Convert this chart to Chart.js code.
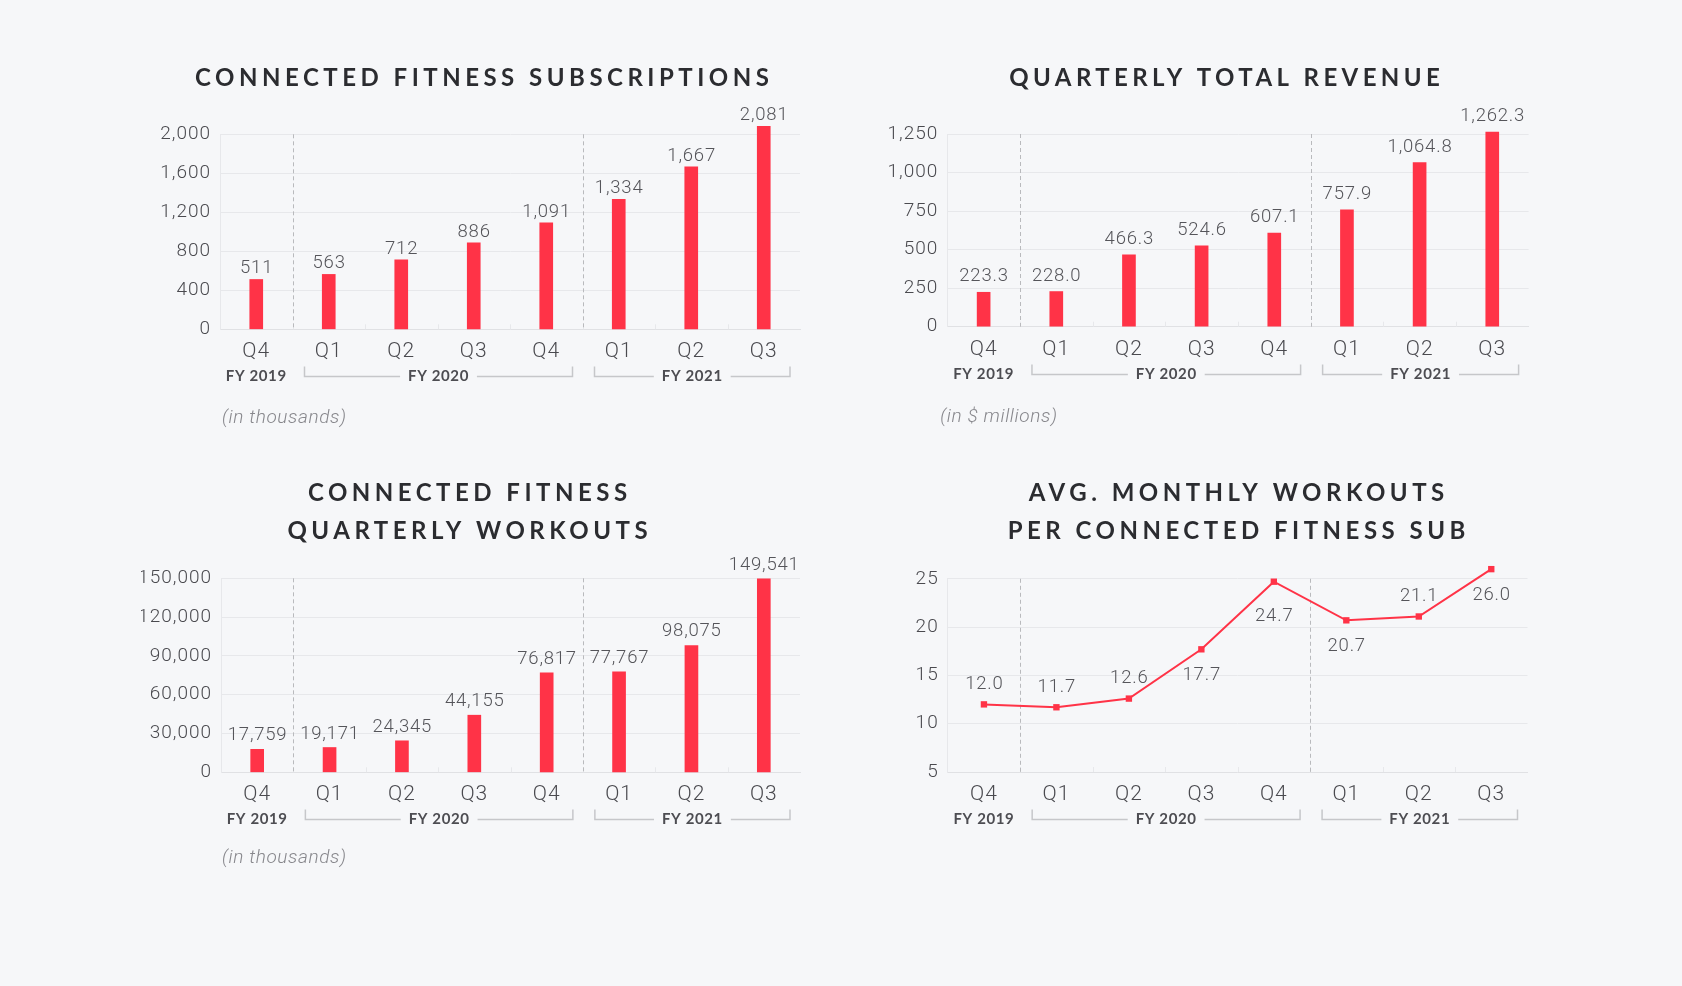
<!DOCTYPE html>
<html>
<head>
<meta charset="utf-8">
<script src="https://cdn.jsdelivr.net/npm/chart.js@4.4.1/dist/chart.umd.min.js"></script>
<style>
  html, body { margin: 0; padding: 0; background: #f6f7f9; }
  body { width: 1682px; height: 986px; position: relative; overflow: hidden; }
  canvas { position: absolute; }
</style>
</head>
<body>
<canvas id="c1" width="841" height="470" style="left:0px;top:0px"></canvas>
<canvas id="c2" width="841" height="470" style="left:841px;top:0px"></canvas>
<canvas id="c3" width="841" height="480" style="left:0px;top:430px"></canvas>
<canvas id="c4" width="841" height="480" style="left:841px;top:430px"></canvas>
<script>
// ---------- DATA ----------
const quarters = ['Q4', 'Q1', 'Q2', 'Q3', 'Q4', 'Q1', 'Q2', 'Q3'];
const fyLabels = ['FY 2019', 'FY 2020', 'FY 2021'];
const fyStart = [0, 1, 5];
const fyEnd = [0, 4, 7];

const subscriptions = [511, 563, 712, 886, 1091, 1334, 1667, 2081];           // thousands
const revenue = [223.3, 228.0, 466.3, 524.6, 607.1, 757.9, 1064.8, 1262.3];   // $ millions
const workouts = [17759, 19171, 24345, 44155, 76817, 77767, 98075, 149541];  // thousands
const avgMonthly = [12.0, 11.7, 12.6, 17.7, 24.7, 20.7, 21.1, 26.0];

const subsTicks = [0, 400, 800, 1200, 1600, 2000];
const revenueTicks = [0, 250, 500, 750, 1000, 1250];
const workoutTicks = [0, 30000, 60000, 90000, 120000, 150000];
const avgTicks = [5, 10, 15, 20, 25];

// label placement for the line chart (relative to each point)
const avgLabelSide = ['above', 'above', 'above', 'below', 'far-below', 'below', 'above', 'below'];

// ---------- STYLE ----------
const RED = '#ff3347';
const GRID = '#e7e8eb';
const TEXT = '#4a4a4f';
const VALUE = '#55555a';
const TITLE = '#2b2c30';
const SIDE_OFFSET = { 'above': -20, 'below': 26, 'far-below': 35 };

const fmtInt = v => v.toLocaleString('en-US');
const fmt1 = v => v.toLocaleString('en-US', { minimumFractionDigits: 1, maximumFractionDigits: 1 });
const formatters = {};

const decorPlugin = {
  id: 'decor',
  beforeDraw(chart) {
    chart.ctx.letterSpacing = '1px';
  },
  beforeDatasetsDraw(chart) {
    const ctx = chart.ctx;
    ctx.letterSpacing = '0px';
    const x = chart.scales.x;
    const area = chart.chartArea;
    const half = (x.getPixelForValue(1) - x.getPixelForValue(0)) / 2;
    ctx.save();
    ctx.strokeStyle = GRID;
    ctx.lineWidth = 1;
    for (let i = 1; i < quarters.length; i++) {
      const bx = Math.round(x.getPixelForValue(i) - half) + 0.5;
      ctx.beginPath();
      ctx.moveTo(bx, area.bottom);
      ctx.lineTo(bx, area.bottom - 5);
      ctx.stroke();
    }
    ctx.strokeStyle = '#b9babd';
    ctx.setLineDash([4, 3]);
    for (let k = 1; k < fyStart.length; k++) {
      const bx = Math.round(x.getPixelForValue(fyStart[k]) - half) + 0.5;
      ctx.beginPath();
      ctx.moveTo(bx, area.top);
      ctx.lineTo(bx, area.bottom);
      ctx.stroke();
    }
    ctx.restore();
  },
  afterDatasetsDraw(chart) {
    // draw line markers that sit above the plot area (skipped by default)
    const o = chart.options.plugins.decor;
    if (o.kind !== 'line') return;
    const meta = chart.getDatasetMeta(0);
    const big = { left: -1e4, top: -1e4, right: 1e4, bottom: 1e4 };
    const area = chart.chartArea;
    meta.data.forEach(el => {
      if (el.y < area.top || el.y > area.bottom) el.draw(chart.ctx, big);
    });
  },
  afterDraw(chart) {
    const o = chart.options.plugins.decor;
    const fmt = formatters[chart.canvas.id];
    const ctx = chart.ctx;
    const x = chart.scales.x;
    const area = chart.chartArea;
    const half = (x.getPixelForValue(1) - x.getPixelForValue(0)) / 2;
    const meta = chart.getDatasetMeta(0);
    const values = chart.data.datasets[0].data;
    ctx.save();

    // value labels
    ctx.letterSpacing = '0.8px';
    ctx.font = '300 18.5px Roboto';
    ctx.fillStyle = VALUE;
    ctx.textAlign = 'center';
    meta.data.forEach((el, i) => {
      const txt = fmt(values[i]);
      if (o.kind === 'bar') {
        ctx.textBaseline = 'alphabetic';
        ctx.fillText(txt, el.x + 0.4, el.y - o.gap);
      } else {
        ctx.textBaseline = 'middle';
        ctx.fillText(txt, el.x + 0.4, el.y + SIDE_OFFSET[avgLabelSide[i]]);
      }
    });

    // titles
    ctx.font = '700 24px Lato';
    ctx.fillStyle = TITLE;
    ctx.textBaseline = 'middle';
    ctx.textAlign = 'center';
    ctx.letterSpacing = o.titleSpacing + 'px';
    o.title.forEach((line, j) => {
      ctx.fillText(line, o.titleX + o.titleSpacing / 2, o.titleY + j * 38);
    });

    // fiscal year labels and brackets
    ctx.letterSpacing = '0.6px';
    ctx.font = '700 15px Lato';
    ctx.fillStyle = '#4d4d52';
    const fyY = area.bottom + 47;
    for (let k = 0; k < fyLabels.length; k++) {
      const label = fyLabels[k];
      const w = ctx.measureText(label).width;
      if (fyStart[k] === fyEnd[k]) {
        ctx.fillText(label, x.getPixelForValue(fyStart[k]), fyY);
        continue;
      }
      const left = x.getPixelForValue(fyStart[k]) - half + 12;
      const right = x.getPixelForValue(fyEnd[k]) + half - 10;
      const cx = (left + right) / 2;
      ctx.fillText(label, cx, fyY);
      ctx.strokeStyle = '#c6c7ca';
      ctx.lineWidth = 1.5;
      const ly = Math.round(fyY) + 0.5;
      ctx.beginPath();
      ctx.moveTo(left, ly - 10);
      ctx.lineTo(left, ly);
      ctx.lineTo(cx - w / 2 - 8, ly);
      ctx.moveTo(cx + w / 2 + 8, ly);
      ctx.lineTo(right, ly);
      ctx.lineTo(right, ly - 10);
      ctx.stroke();
    }

    // units note
    if (o.note) {
      ctx.letterSpacing = '0.6px';
      ctx.font = 'italic 300 19px Roboto';
      ctx.fillStyle = '#87878c';
      ctx.textAlign = 'left';
      ctx.fillText(o.note, area.left + o.noteDx, area.bottom + o.noteDy);
    }
    ctx.restore();
  }
};

function makeChart(id, kind, values, ticks, fmt, opt) {
  formatters[id] = fmt;
  const canvas = document.getElementById(id);
  const H = canvas.height;
  const dataset = kind === 'bar'
    ? { data: values, backgroundColor: RED, barThickness: 13, borderWidth: 0, clip: false }
    : { data: values, borderColor: RED, borderWidth: 2, backgroundColor: RED,
        pointStyle: 'rect', pointRadius: 4.5, pointHoverRadius: 4.5,
        pointBackgroundColor: RED, pointBorderWidth: 0, tension: 0, clip: false };
  return new Chart(canvas, {
    type: kind,
    data: { labels: quarters, datasets: [dataset] },
    options: {
      responsive: false,
      animation: false,
      devicePixelRatio: 1,
      layout: { padding: { left: opt.padLeft, right: opt.padRight, top: opt.top, bottom: 0 } },
      plugins: {
        legend: { display: false },
        tooltip: { enabled: false },
        title: { display: false },
        decor: {
          kind: kind, gap: opt.gap,
          title: opt.title, titleX: opt.titleX, titleY: opt.titleY, titleSpacing: opt.titleSpacing,
          note: opt.note, noteDx: opt.noteDx, noteDy: opt.noteDy
        }
      },
      scales: {
        x: {
          offset: true,
          grid: { display: false, drawTicks: false },
          border: { display: true, color: '#e0e1e4', width: 1 },
          ticks: { padding: 10, color: TEXT, font: { family: 'Roboto', size: 21, weight: 300 } },
          afterFit: s => { s.height = H - opt.bottom; }
        },
        y: {
          min: ticks[0],
          max: ticks[ticks.length - 1],
          afterBuildTicks: s => { s.ticks = ticks.map(v => ({ value: v })); },
          grid: { color: GRID, drawTicks: false, lineWidth: 1 },
          border: { display: true, color: GRID, width: 1 },
          ticks: { padding: 9, color: TEXT, font: { family: 'Roboto', size: 19, weight: 300 },
                   callback: v => fmtInt(v) },
          afterFit: s => { s.width = 80; }
        }
      }
    },
    plugins: [decorPlugin]
  });
}

makeChart('c1', 'bar', subscriptions, subsTicks, fmtInt, {
  padLeft: 140, padRight: 41, top: 134.3, bottom: 329.3, gap: 6,
  title: ['CONNECTED FITNESS SUBSCRIPTIONS'], titleX: 482, titleY: 78, titleSpacing: 4.5,
  note: '(in thousands)', noteDx: 2, noteDy: 89
});
makeChart('c2', 'bar', revenue, revenueTicks, fmt1, {
  padLeft: 26.3, padRight: 153.4, top: 134, bottom: 326.7, gap: 11,
  title: ['QUARTERLY TOTAL REVENUE'], titleX: 1224.5 - 841, titleY: 78, titleSpacing: 4.4,
  note: '(in $ millions)', noteDx: -7, noteDy: 91
});
makeChart('c3', 'bar', workouts, workoutTicks, fmtInt, {
  padLeft: 141, padRight: 41, top: 148.3, bottom: 342.3, gap: 9,
  title: ['CONNECTED FITNESS', 'QUARTERLY WORKOUTS'], titleX: 467.5, titleY: 63, titleSpacing: 4.5,
  note: '(in thousands)', noteDx: 1, noteDy: 86
});
makeChart('c4', 'line', avgMonthly, avgTicks, v => v.toFixed(1), {
  padLeft: 26.7, padRight: 154.5, top: 148.8, bottom: 342, gap: 0,
  title: ['AVG. MONTHLY WORKOUTS', 'PER CONNECTED FITNESS SUB'], titleX: 1236.5 - 841, titleY: 63, titleSpacing: 4.5,
  note: null
});
</script>
</body>
</html>
